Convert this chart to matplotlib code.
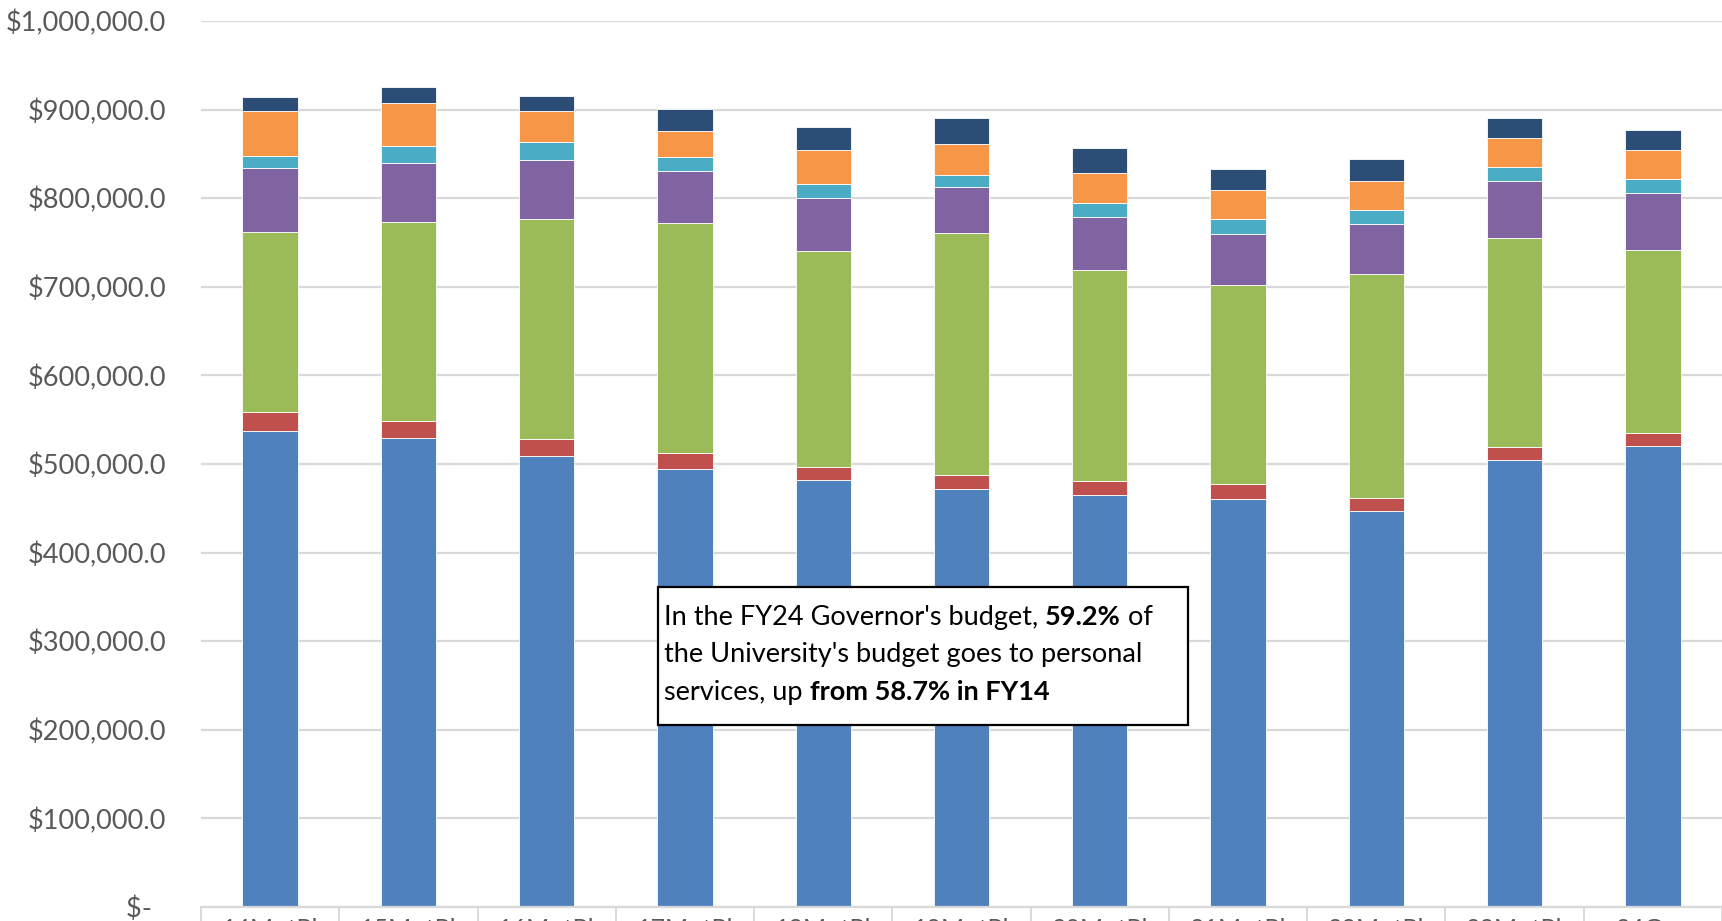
import matplotlib
matplotlib.use("Agg")
import matplotlib.pyplot as plt
from matplotlib.patches import Rectangle
import numpy as np

categories = ["14M+tPl", "15M+tPl", "16M+tPl", "17M+tPl", "18M+tPl", "19M+tPl",
              "20M+tPl", "21M+tPl", "22M+tPl", "23M+tPl", "24Gov"]

# stacked segment values (thousands of $), bottom to top
s1_personal = [537, 529, 509, 494, 482, 472, 465, 461, 447, 504, 520]
s2_red      = [22, 19, 19, 18, 15, 16, 16, 16, 15, 15, 15]
s3_green    = [203, 225, 248, 260, 243, 273, 238, 225, 253, 236, 207]
s4_purple   = [72, 67, 67, 59, 60, 52, 60, 58, 56, 64, 64]
s5_teal     = [14, 19, 20, 15, 16, 13, 16, 16, 16, 16, 16]
s6_orange   = [50, 49, 35, 30, 38, 35, 34, 33, 32, 33, 32]
s7_navy     = [16, 17, 17, 25, 26, 29, 28, 24, 25, 23, 23]

series = [s1_personal, s2_red, s3_green, s4_purple, s5_teal, s6_orange, s7_navy]
colors = ["#4F81BD", "#C0504D", "#9BBB59", "#8064A2", "#4BACC6", "#F79646", "#2C4D75"]

yticks = [0, 100000, 200000, 300000, 400000, 500000, 600000, 700000, 800000, 900000, 1000000]
ytick_labels = ["$-  ", "$100,000.0", "$200,000.0", "$300,000.0", "$400,000.0", "$500,000.0",
                "$600,000.0", "$700,000.0", "$800,000.0", "$900,000.0", "$1,000,000.0"]

W, H = 1722, 921
fig = plt.figure(figsize=(W / 100, H / 100), dpi=100)
FONT = "Lato"

ax_left, ax_right, ax_top, ax_bot = 201, 1722, 21, 907
ax = fig.add_axes([ax_left / W, 1 - ax_bot / H, (ax_right - ax_left) / W, (ax_bot - ax_top) / H])

x = np.arange(len(categories))
bottom = np.zeros(len(categories))
for vals, c in zip(series, colors):
    v = np.array(vals, dtype=float) * 1000
    ax.bar(x, v, width=0.4, bottom=bottom, color=c, edgecolor="#ffffff", linewidth=0.6, zorder=3)
    bottom += v

ax.set_xlim(-0.5, len(categories) - 0.5)
ax.set_ylim(0, 1000000)
ax.set_yticks(yticks)
ax.set_yticklabels(ytick_labels, fontfamily=FONT, fontsize=19.5, color="#595959")
ax.yaxis.grid(True, color="#d9d9d9", linewidth=1.6, zorder=0)
ax.tick_params(axis="y", length=0, pad=25)

ax.set_xticks(x)
ax.set_xticklabels(categories, fontfamily=FONT, fontsize=18, color="#595959")
ax.set_xticks(np.arange(-0.5, len(categories), 1.0), minor=True)
ax.tick_params(axis="x", which="major", length=0, pad=8)
ax.tick_params(axis="x", which="minor", length=12, width=1.4, color="#d9d9d9", direction="out")

for sp in ["top", "right", "left"]:
    ax.spines[sp].set_visible(False)
ax.spines["bottom"].set_color("#d9d9d9")
ax.spines["bottom"].set_linewidth(1.6)
ax.spines["bottom"].set_zorder(4)

# annotation box (figure pixel coords)
def fx(px):
    return px / W

def fy(py):
    return 1 - py / H

bx0, by0, bx1, by1 = 658, 587, 1188, 725
rect = Rectangle((fx(bx0), fy(by1)), fx(bx1) - fx(bx0), fy(by0) - fy(by1),
                 transform=fig.transFigure, facecolor="white", edgecolor="black",
                 linewidth=1.6, zorder=10)
fig.patches.append(rect)

lines = [
    [("In the FY24 Governor's budget, ", "normal"), ("59.2%", "bold"), (" of", "normal")],
    [("the University's budget goes to personal", "normal")],
    [("services, up ", "normal"), ("from 58.7% in FY14", "bold")],
]
baselines = [625, 662, 700]
renderer = fig.canvas.get_renderer()
for parts, base in zip(lines, baselines):
    cx = 664
    for txt, wt in parts:
        t = fig.text(fx(cx), fy(base), txt, fontfamily=FONT, fontsize=19.5, fontweight=wt,
                     color="black", ha="left", va="baseline", zorder=11)
        bb = t.get_window_extent(renderer=renderer)
        cx += bb.width

fig.savefig("out.png", dpi=100)
